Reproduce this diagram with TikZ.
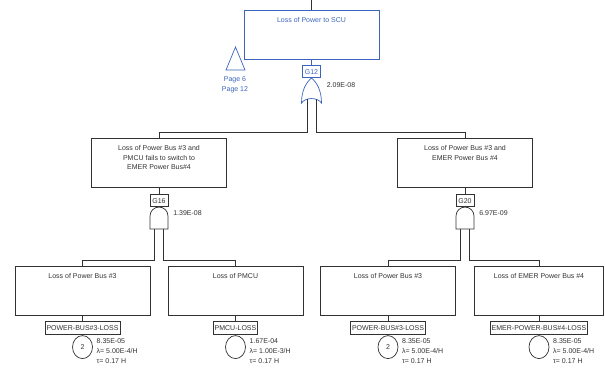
\documentclass[tikz,border=0pt]{standalone}
\usepackage{fontspec}
\setmainfont{Liberation Sans}
\usetikzlibrary{positioning,shapes.geometric}
\definecolor{ftblue}{RGB}{60,100,190}
\definecolor{ftgray}{RGB}{50,50,50}
\newcommand{\boxtext}[1]{\parbox[c][37pt][t]{128pt}{\centering\strut #1}}

\tikzset{
  evbox/.style={draw, minimum width=135pt, minimum height=49pt, inner sep=0pt},
  gateid/.style={draw, minimum width=18pt, minimum height=12pt, inner sep=0pt},
  evid/.style={draw, line width=0.9pt, inner xsep=1.5pt, inner ysep=0pt, minimum height=13pt},
  basic/.style={draw, ellipse, minimum width=20pt, minimum height=23pt, inner sep=0pt},
  stats/.style={anchor=north west, inner sep=0pt, align=left, font=\fontsize{7pt}{10pt}\selectfont},
  prob/.style={anchor=west, inner sep=0pt},
  andgate/.pic={
    \draw (-9,22) -- (-9,9) .. controls (-9,4) and (-5,0) .. (0,0)
      .. controls (5,0) and (9,4) .. (9,9) -- (9,22) -- cycle;
    \coordinate (-a) at (-4.5,22);
    \coordinate (-b) at (4.5,22);
    \coordinate (-p) at (14,6);
  },
  orgate/.pic={
    \draw (-10,25) .. controls (-10,12) and (-5,4) .. (0,0)
      .. controls (5,4) and (10,12) .. (10,25)
      .. controls (6,19) and (-6,19) .. (-10,25) -- cycle;
    \coordinate (-a) at (-4.5,21);
    \coordinate (-b) at (4.5,21);
    \coordinate (-p) at (15,7);
  }
}

\begin{document}
\begin{tikzpicture}[x=1pt, y=-1pt, line width=0.7pt, color=ftgray,
    font=\fontsize{7pt}{9.5pt}\selectfont]
  \useasboundingbox (0,0) rectangle (605,367);

  % top event
  \coordinate (up) at (311.5,0);
  \node[evbox, draw=ftblue, text=ftblue] (top) at (311.5,34.5) {\boxtext{Loss of Power to SCU}};
  \node[gateid, draw=ftblue, text=ftblue, below=6pt of top] (g12) {G12};
  \pic[ftblue] (or12) at (g12.south) {orgate};
  \node[prob] (p12) at (or12-p) {2.09E-08};
  \draw[ftblue] (226,70) -- (235.5,47) -- (245,70) -- cycle;
  \node[text=ftblue, align=center] (pages) at (235,85) {Page 6\\Page 12};

  % intermediate events
  \node[evbox] (mleft) at (159,162.5) {\boxtext{Loss of Power Bus \#3 and\\PMCU fails to switch to\\EMER Power Bus\#4}};
  \node[evbox] (mright) at (465,162.5) {\boxtext{Loss of Power Bus \#3 and\\EMER Power Bus \#4}};
  \node[gateid, below=7pt of mleft] (g16) {G16};
  \node[gateid, below=7pt of mright] (g20) {G20};
  \pic (and16) at (g16.south) {andgate};
  \pic (and20) at (g20.south) {andgate};
  \node[prob] (p16) at (and16-p) {1.39E-08};
  \node[prob] (p20) at (and20-p) {6.97E-09};

  % basic events
  \node[evbox] (b1) at (82.5,290.5) {\boxtext{Loss of Power Bus \#3}};
  \node[evbox] (b2) at (235.5,290.5) {\boxtext{Loss of PMCU}};
  \node[evbox] (b3) at (388,290.5) {\boxtext{Loss of Power Bus \#3}};
  \node[evbox, minimum width=129pt] (b4) at (539,290.5) {\boxtext{Loss of EMER Power Bus \#4}};

  \node[evid, below=6pt of b1] (pb1) {POWER-BUS\#3-LOSS};
  \node[evid, below=6pt of b2] (pb2) {PMCU-LOSS};
  \node[evid, below=6pt of b3] (pb3) {POWER-BUS\#3-LOSS};
  \node[evid, below=6pt of b4] (pb4) {EMER-POWER-BUS\#4-LOSS};

  \node[basic, below=0pt of pb1] (c1) {2};
  \node[basic, below=0pt of pb2] (c2) {};
  \node[basic, below=0pt of pb3] (c3) {2};
  \node[basic, below=0pt of pb4] (c4) {};

  \node[stats] (s1) at ([xshift=3.5pt,yshift=9pt]c1.east) {8.35E-05\\λ= 5.00E-4/H\\τ= 0.17 H};
  \node[stats] (s2) at ([xshift=3.5pt,yshift=9pt]c2.east) {1.67E-04\\λ= 1.00E-3/H\\τ= 0.17 H};
  \node[stats] (s3) at ([xshift=3.5pt,yshift=9pt]c3.east) {8.35E-05\\λ= 5.00E-4/H\\τ= 0.17 H};
  \node[stats] (s4) at ([xshift=3.5pt,yshift=9pt]c4.east) {8.35E-05\\λ= 5.00E-4/H\\τ= 0.17 H};

  % connectors
  \draw (up) -- (top);
  \draw[ftblue] (top) -- (g12);
  \draw (or12-a) |- ([yshift=5pt]mleft.north) -- (mleft.north);
  \draw (or12-b) |- ([yshift=5pt]mright.north) -- (mright.north);
  \draw (mleft) -- (g16);
  \draw (mright) -- (g20);
  \draw (and16-a) |- ([yshift=5pt]b1.north) -- (b1.north);
  \draw (and16-b) |- ([yshift=5pt]b2.north) -- (b2.north);
  \draw (and20-a) |- ([yshift=5pt]b3.north) -- (b3.north);
  \draw (and20-b) |- ([yshift=5pt]b4.north) -- (b4.north);
  \draw (b1) -- (pb1);
  \draw (b2) -- (pb2);
  \draw (b3) -- (pb3);
  \draw (b4) -- (pb4);
\end{tikzpicture}
\end{document}
